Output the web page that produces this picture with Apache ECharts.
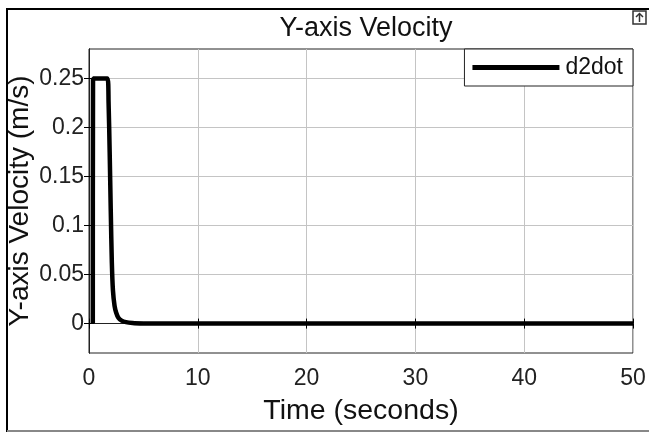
<!DOCTYPE html>
<html>
<head>
<meta charset="utf-8">
<script src="https://cdn.jsdelivr.net/npm/echarts@6/dist/echarts.min.js"></script>
<style>html,body{margin:0;padding:0;background:#fff}#c{width:649px;height:432px}</style>
</head>
<body>
<div id="c"></div>
<script>
const titleText = "Y-axis Velocity";
const xName = "Time (seconds)";
const yName = "Y-axis Velocity (m/s)";
const seriesName = "d2dot";
const timeValues = [0.35, 0.37, 1.0, 1.7, 1.8, 1.9, 2.0, 2.1, 2.2, 2.35, 2.5, 2.7, 3.0, 3.4, 4.0, 5.0, 6.0, 10, 20, 30, 40, 50];
const velocityValues = [0, 0.25, 0.25, 0.25, 0.225, 0.175, 0.115, 0.062, 0.034, 0.018, 0.011, 0.006, 0.003, 0.0015, 0.0007, 0.0002, 0, 0, 0, 0, 0, 0];
const xTicks = [0, 10, 20, 30, 40, 50];
const yTicks = [0, 0.05, 0.1, 0.15, 0.2, 0.25];

const data = timeValues.map((t, i) => [t, velocityValues[i]]);
const font = "Liberation Sans";
const chart = echarts.init(document.getElementById('c'), null, {renderer: 'canvas'});
const tickIn = {show: true, inside: true, length: 5, lineStyle: {color: '#000', width: 1}};
chart.setOption({
  backgroundColor: '#fff',
  animation: false,
  title: {text: titleText, left: 361, top: 10, textAlign: 'center',
    textStyle: {fontFamily: font, fontSize: 27, fontWeight: 'normal', color: '#111'}},
  grid: {left: 89, right: 16, top: 49, bottom: 79, outerBoundsMode: 'none', containLabel: false,
    show: true, borderColor: '#222', borderWidth: 1, backgroundColor: '#fff'},
  legend: {right: 16, top: 49, orient: 'horizontal', backgroundColor: '#fff', borderColor: '#222', borderWidth: 1,
    borderRadius: 0, padding: [7, 10, 7, 8], icon: 'rect', itemWidth: 87, itemHeight: 5, itemGap: 5,
    itemStyle: {color: '#000'},
    textStyle: {fontFamily: font, fontSize: 23, color: '#111', padding: [0, 0, 0, 1]}, data: [seriesName]},
  xAxis: [{type: 'value', min: 0, max: 50, interval: 10, name: xName, nameLocation: 'middle', nameGap: 44,
    nameMoveOverlap: false,
    nameTextStyle: {fontFamily: font, fontSize: 28.5, color: '#111'},
    axisLine: {show: true, lineStyle: {color: '#222'}}, axisTick: tickIn,
    axisLabel: {fontFamily: font, fontSize: 23, color: '#222', margin: 14, customValues: xTicks},
    splitLine: {show: true, lineStyle: {color: '#c4c4c4', width: 1}}},
    {type: 'value', position: 'top', min: 0, max: 50, interval: 10, axisLine: {show: true, lineStyle: {color: '#222'}},
     axisTick: tickIn, axisLabel: {show: false}, splitLine: {show: false}}],
  yAxis: [{type: 'value', min: -0.03, max: 0.28, name: yName, nameLocation: 'middle', nameGap: 55,
    nameMoveOverlap: false,
    nameTextStyle: {fontFamily: font, fontSize: 28, color: '#111'},
    axisLine: {show: true, lineStyle: {color: '#222'}}, axisTick: Object.assign({customValues: yTicks}, tickIn),
    axisLabel: {fontFamily: font, fontSize: 23, color: '#222', margin: 5, customValues: yTicks},
    splitLine: {show: true, lineStyle: {color: '#c4c4c4', width: 1}}},
    {type: 'value', position: 'right', min: -0.03, max: 0.28, axisLine: {show: true, lineStyle: {color: '#222'}},
     axisTick: Object.assign({customValues: yTicks}, tickIn), axisLabel: {show: false}, splitLine: {show: false}}],
  series: [{name: seriesName, type: 'line', data: data, showSymbol: false, symbol: 'none', smooth: 0.3,
    lineStyle: {color: '#000', width: 4.5}, itemStyle: {color: '#000'}}],
  graphic: [
    {type: 'line', shape: {x1: 7, y1: 9, x2: 7, y2: 432}, style: {stroke: '#000', lineWidth: 2}},
    {type: 'line', shape: {x1: 6, y1: 9, x2: 649, y2: 9}, style: {stroke: '#000', lineWidth: 2}},
    {type: 'line', shape: {x1: 7, y1: 431, x2: 649, y2: 431}, style: {stroke: '#888', lineWidth: 2}},
    {type: 'rect', shape: {x: 633, y: 11, width: 13, height: 13}, style: {fill: '#fff', stroke: '#333', lineWidth: 1.5}},
    {type: 'polyline', shape: {points: [[636, 17], [639.5, 13.5], [643, 17]]}, style: {fill: 'none', stroke: '#333', lineWidth: 1.5}},
    {type: 'line', shape: {x1: 639.5, y1: 14, x2: 639.5, y2: 22}, style: {stroke: '#333', lineWidth: 1.5}}
  ]
});
</script>
</body>
</html>
